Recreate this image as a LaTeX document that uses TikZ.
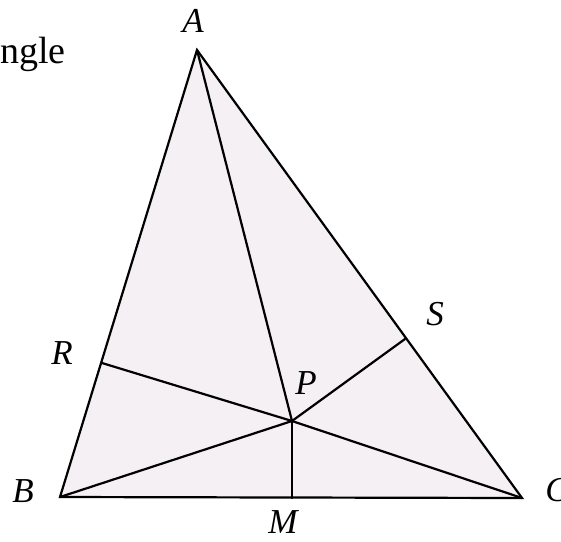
\documentclass[tikz,border=0pt]{standalone}
\usepackage{fontspec}
\setmainfont{Liberation Serif}
\usepackage{tikz}
\definecolor{trifill}{RGB}{244,240,244}
\tikzset{
  tri/.style={fill=trifill, draw=black, line width=2.2pt, line join=miter},
  seg/.style={black, line width=2.2pt, line cap=round},
  ptlabel/.style={inner sep=0pt, font=\fontsize{35}{38}\selectfont\itshape},
  headtext/.style={inner sep=0pt, anchor=base west, font=\fontsize{38}{40}\selectfont},
}
\begin{document}
\begin{tikzpicture}[x=1pt, y=-1pt]
  \useasboundingbox (0,0) rectangle (561,541);
  % vertices and feet of the perpendiculars
  \coordinate (A) at (197,50);
  \coordinate (B) at (60,497);
  \coordinate (C) at (522,498);
  \coordinate (P) at (292,421);
  \coordinate (M) at (292,498);
  \coordinate (R) at (102,363);
  \coordinate (S) at (405,339);
  \fill[trifill] (A) -- (B) -- (C) -- cycle;
  \draw[seg] (P) -- (A);
  \draw[seg] (P) -- (B);
  \draw[seg] (P) -- (C);
  \draw[seg] (P) -- (R);
  \draw[seg] (P) -- (S);
  \draw[seg] (P) -- (M);
  \draw[tri, fill=none] (A) -- (B) -- (C) -- cycle;
  % labels
  \node[ptlabel] (lA) at (193,21)  {A};
  \node[ptlabel] (lB) at (23,491)  {B};
  \node[ptlabel] (lC) at (557,490) {C};
  \node[ptlabel] (lP) at (306,383) {P};
  \node[ptlabel] (lM) at (283,522) {M};
  \node[ptlabel] (lR) at (62,353)  {R};
  \node[ptlabel] (lS) at (435,314) {S};
  \node[headtext] (head) at (0,63) {ngle};
\end{tikzpicture}
\end{document}
